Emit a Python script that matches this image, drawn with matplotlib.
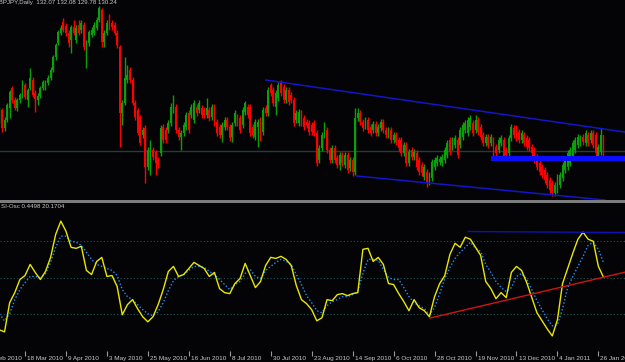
import matplotlib
matplotlib.use('Agg')
import matplotlib.pyplot as plt
from matplotlib.patches import Rectangle
import numpy as np

W, H = 625, 362
BG = '#040406'

# GBPJPY daily bars, 4 Mar 2010 .. 28 Jan 2011 (one value per bar)
opens = [133.77, 134.88, 132.88, 133.77, 135.10, 137.32, 135.99, 135.10, 135.99, 136.43,
         137.66, 135.99, 137.32, 138.21, 136.77, 135.99, 136.43, 137.32, 137.32, 137.88,
         138.43, 139.32, 140.77, 142.32, 143.43, 144.66, 144.21, 143.43, 142.66, 144.10,
         142.66, 144.32, 143.77, 144.32, 141.54, 142.32, 143.21, 143.43, 143.99, 144.88,
         145.99, 142.43, 143.43, 145.10, 144.54, 144.32, 143.43, 141.88, 134.54, 135.66,
         138.21, 139.32, 138.21, 135.66, 134.88, 134.10, 132.10, 132.88, 128.54, 129.66,
         130.43, 130.21, 129.32, 130.10, 132.99, 132.66, 132.66, 133.43, 134.88, 135.21,
         132.66, 131.88, 132.32, 132.99, 134.54, 134.32, 133.77, 135.21, 134.88, 135.10,
         134.88, 134.32, 134.88, 134.10, 135.21, 133.54, 132.99, 132.10, 132.99, 133.77,
         132.99, 131.88, 133.43, 134.10, 133.99, 133.21, 134.66, 135.21, 135.21, 132.99,
         131.88, 132.99, 133.77, 132.43, 135.10, 134.54, 137.66, 137.10, 135.21, 136.21,
         137.88, 137.43, 135.99, 137.10, 136.54, 135.99, 133.77, 133.43, 134.54, 133.99,
         133.54, 133.43, 133.21, 133.43, 132.32, 129.32, 130.66, 132.10, 132.66, 130.43,
         129.32, 130.66, 129.54, 128.77, 129.88, 128.77, 129.88, 128.43, 129.32, 127.99,
         133.99, 134.54, 133.54, 133.10, 133.77, 132.99, 132.66, 133.32, 132.32, 132.88,
         133.54, 132.66, 132.10, 132.66, 131.54, 132.10, 131.54, 131.54, 130.10, 130.99,
         128.99, 130.43, 129.66, 130.10, 129.32, 128.77, 127.43, 127.99, 126.88, 127.32,
         128.54, 128.99, 129.10, 128.99, 129.32, 129.88, 131.54, 130.77, 130.99, 131.54,
         130.99, 131.88, 132.66, 132.32, 132.99, 133.43, 132.66, 133.77, 132.99, 132.10,
         131.21, 131.88, 131.21, 131.54, 130.77, 130.43, 131.21, 131.54, 130.43, 130.10,
         131.77, 132.88, 132.88, 132.43, 131.54, 132.10, 131.77, 131.54, 130.77, 130.43,
         129.66, 128.99, 128.54, 128.21, 127.66, 127.10, 126.77, 125.66, 125.99, 126.54,
         127.32, 128.21, 128.54, 128.99, 129.66, 130.43, 130.99, 131.21, 131.88, 131.21,
         132.10, 131.54, 132.32, 132.10, 129.66, 130.21, 132.07]
highs = [135.21, 135.10, 134.10, 135.66, 137.10, 137.54, 136.32, 136.21, 136.77, 138.21,
         137.88, 137.32, 139.54, 138.54, 137.10, 136.77, 137.54, 138.21, 138.21, 138.77,
         139.66, 140.99, 142.32, 143.77, 144.32, 145.10, 144.54, 143.77, 144.32, 144.88,
         144.32, 144.88, 144.88, 144.66, 142.66, 143.77, 144.10, 144.66, 145.21, 146.43,
         146.21, 143.77, 144.88, 145.54, 144.88, 144.66, 143.77, 142.10, 135.99, 140.77,
         139.88, 139.66, 138.54, 135.99, 135.10, 134.32, 132.99, 133.21, 130.77, 131.54,
         130.77, 130.43, 129.66, 133.21, 133.32, 132.99, 133.77, 135.66, 136.54, 135.54,
         132.99, 132.66, 133.54, 134.66, 134.88, 135.54, 135.99, 135.54, 135.99, 135.43,
         135.21, 136.21, 135.21, 135.54, 135.54, 133.88, 133.32, 133.54, 134.10, 134.10,
         133.32, 133.54, 134.88, 134.43, 134.32, 135.21, 135.88, 135.54, 135.54, 133.32,
         133.88, 133.88, 134.10, 135.21, 135.43, 137.43, 137.88, 137.43, 137.10, 137.99,
         138.21, 137.77, 137.43, 137.43, 136.88, 136.32, 134.88, 134.99, 134.88, 134.32,
         133.88, 133.77, 133.54, 133.77, 132.66, 130.99, 132.43, 133.54, 132.99, 130.77,
         130.99, 130.99, 129.88, 130.21, 130.21, 130.21, 130.21, 129.66, 129.66, 135.10,
         135.10, 134.88, 133.88, 134.10, 134.10, 133.32, 133.66, 133.66, 133.32, 133.88,
         133.88, 132.99, 132.99, 132.99, 132.43, 132.43, 131.88, 131.88, 131.32, 131.32,
         130.54, 130.77, 130.54, 130.43, 129.66, 129.10, 128.88, 128.32, 127.99, 129.43,
         129.66, 129.88, 129.77, 129.99, 130.77, 131.54, 131.88, 131.88, 132.10, 131.88,
         132.99, 133.54, 133.77, 134.10, 134.32, 133.77, 134.32, 134.10, 133.32, 132.43,
         132.21, 132.21, 132.21, 131.88, 131.10, 131.88, 132.10, 131.88, 130.77, 132.10,
         133.32, 133.21, 133.21, 132.77, 132.66, 132.43, 132.10, 131.88, 131.10, 130.77,
         129.99, 129.32, 128.88, 128.54, 127.99, 127.43, 127.10, 126.88, 127.77, 127.99,
         129.10, 129.66, 130.43, 130.77, 131.54, 131.88, 132.21, 132.10, 132.21, 132.66,
         132.43, 132.66, 132.66, 132.43, 131.10, 132.88, 132.08]
lows = [133.43, 132.43, 132.54, 133.54, 133.99, 135.66, 134.88, 134.77, 135.66, 136.21,
        136.10, 135.21, 137.10, 136.32, 134.66, 135.43, 136.21, 137.10, 137.10, 137.66,
        138.21, 139.10, 140.43, 142.10, 143.21, 143.54, 143.10, 141.88, 141.21, 143.21,
        142.32, 143.21, 143.43, 141.54, 139.54, 141.99, 142.99, 143.21, 143.77, 144.66,
        141.88, 141.88, 143.21, 143.77, 143.77, 143.21, 141.77, 130.77, 133.21, 135.43,
        137.88, 137.88, 135.43, 133.77, 132.10, 130.99, 131.77, 126.77, 128.21, 127.66,
        129.32, 127.66, 128.43, 129.77, 131.21, 131.21, 132.32, 133.10, 134.54, 132.32,
        131.54, 130.43, 131.99, 132.66, 132.32, 133.99, 133.43, 134.21, 134.54, 133.99,
        133.99, 133.99, 133.66, 133.77, 133.10, 131.99, 131.77, 131.32, 132.66, 132.66,
        131.43, 131.32, 133.10, 133.10, 132.32, 132.88, 134.32, 133.99, 131.99, 131.77,
        131.54, 130.77, 131.43, 132.10, 134.21, 134.21, 136.43, 135.32, 134.32, 135.88,
        136.43, 135.66, 135.66, 135.43, 135.66, 133.10, 133.43, 133.10, 133.10, 132.66,
        132.88, 132.10, 132.10, 131.99, 128.66, 128.99, 130.32, 131.77, 130.10, 128.99,
        128.99, 128.99, 128.43, 128.21, 128.66, 128.43, 127.88, 128.10, 127.54, 127.66,
        133.66, 133.21, 132.54, 132.77, 132.32, 131.99, 132.32, 131.99, 131.99, 132.54,
        132.32, 131.77, 131.77, 131.21, 131.21, 130.99, 130.32, 129.77, 129.77, 128.66,
        128.66, 129.32, 129.32, 128.21, 127.66, 127.54, 127.10, 126.32, 126.54, 126.99,
        128.21, 128.66, 128.77, 128.66, 128.99, 129.54, 129.88, 130.43, 130.66, 129.54,
        130.66, 131.54, 132.32, 131.99, 132.66, 131.99, 132.32, 132.10, 131.54, 130.88,
        130.88, 130.66, 130.88, 129.54, 129.77, 130.10, 130.88, 129.32, 129.54, 129.77,
        131.43, 131.77, 131.43, 131.21, 131.21, 130.88, 130.43, 130.32, 129.77, 128.99,
        128.21, 127.66, 127.32, 126.77, 126.21, 125.66, 125.32, 125.32, 125.66, 126.21,
        126.99, 127.88, 128.21, 128.66, 129.32, 130.10, 130.66, 130.88, 130.99, 130.88,
        130.88, 131.21, 130.66, 129.77, 129.32, 129.88, 129.78]
closes = [134.88, 132.88, 133.77, 135.43, 136.88, 135.99, 135.10, 135.99, 136.54, 137.99,
          136.32, 137.10, 138.43, 136.54, 136.10, 136.43, 137.32, 137.99, 137.88, 138.43,
          139.32, 140.77, 142.10, 143.54, 143.99, 143.77, 143.43, 142.32, 144.10, 143.43,
          143.99, 143.43, 144.54, 141.88, 142.32, 143.54, 143.77, 144.32, 144.88, 146.21,
          142.43, 143.43, 144.54, 143.99, 144.10, 143.43, 142.10, 134.54, 135.66, 138.43,
          138.77, 138.21, 135.66, 134.10, 132.32, 131.21, 132.66, 128.54, 130.43, 131.32,
          129.66, 128.99, 128.77, 132.88, 131.54, 131.54, 133.43, 135.21, 135.66, 132.66,
          131.88, 132.32, 133.21, 134.32, 132.66, 135.21, 135.66, 134.54, 135.66, 134.32,
          134.32, 135.10, 133.99, 135.21, 133.43, 132.32, 132.10, 133.21, 133.77, 132.99,
          131.77, 133.21, 134.54, 133.43, 132.66, 134.88, 135.66, 134.32, 132.32, 132.10,
          133.54, 133.54, 131.77, 134.88, 134.54, 137.10, 136.77, 135.66, 136.77, 137.66,
          136.77, 135.99, 137.10, 135.77, 135.99, 133.43, 134.54, 134.66, 133.43, 132.99,
          133.21, 132.43, 132.43, 132.32, 128.99, 130.66, 132.10, 132.66, 130.43, 129.32,
          130.66, 129.32, 128.77, 129.88, 128.99, 129.88, 128.21, 129.32, 127.99, 133.99,
          134.54, 133.54, 132.88, 133.77, 132.66, 132.32, 133.32, 132.32, 132.99, 133.54,
          132.66, 132.10, 132.66, 131.54, 132.10, 131.32, 130.66, 130.10, 130.99, 128.99,
          130.21, 129.66, 130.21, 128.54, 127.99, 127.88, 128.54, 126.88, 127.66, 129.10,
          129.32, 129.54, 129.43, 129.66, 130.43, 131.21, 130.21, 131.54, 131.77, 129.88,
          132.66, 133.21, 133.43, 133.77, 133.99, 132.32, 133.77, 132.43, 131.88, 131.21,
          131.88, 130.99, 131.88, 129.88, 130.10, 131.54, 131.77, 129.66, 129.88, 131.77,
          132.99, 132.10, 131.77, 131.54, 132.32, 131.21, 130.77, 130.66, 130.10, 129.32,
          128.54, 127.99, 127.66, 127.10, 126.54, 125.99, 125.66, 126.54, 127.43, 127.66,
          128.77, 129.32, 130.10, 130.43, 131.21, 131.54, 131.88, 131.77, 131.32, 132.32,
          131.21, 132.32, 130.99, 130.10, 130.77, 132.10, 130.24]

# oscillator, read every second bar
osc_step = 2
osc_main = [-71.2, -74.0, -34.3, -20.6, -2.7, 2.7, 17.8, 6.9, -2.7, 8.2,
            27.4, 58.9, 76.7, 63.0, 41.1, 39.7, 42.5, 9.6, 4.1, 21.9,
            27.4, 1.4, 2.7, -12.3, -50.7, -37.0, -30.1, -42.5, -53.4, -60.3,
            -53.4, -37.0, -16.4, 8.2, 15.1, 1.4, 4.1, 12.3, 20.6, 16.4,
            12.3, 1.4, 6.9, -15.1, -20.6, -21.9, -8.2, -1.4, 19.2, 2.7,
            -13.7, -5.5, 16.4, 27.4, 26.0, 28.8, 24.7, 16.4, -11.0, -30.1,
            -35.6, -43.8, -58.9, -54.8, -30.1, -31.5, -23.3, -21.9, -24.7, -21.9,
            -20.6, 38.4, 39.7, 21.9, 27.4, 17.8, -8.2, -9.6, -21.9, -32.9,
            -45.2, -30.1, -41.1, -45.2, -53.4, -26.0, -8.2, 2.7, 31.5, 46.6,
            41.1, 54.8, 52.1, 41.1, 30.1, -5.5, -15.1, -28.8, -20.6, -27.4,
            6.9, 15.1, 9.6, -6.9, -27.4, -48.0, -58.9, -69.9, -79.5, -57.5,
            -8.2, 12.3, 32.9, 52.1, 61.7, 52.1, 49.3, 15.1, 0.4498]
osc_signal = [-49.3, -58.9, -49.3, -30.1, -16.4, -6.9, 1.4, 1.4, 0.0, 5.5,
              20.6, 41.1, 56.2, 56.2, 49.3, 48.0, 43.8, 34.3, 24.7, 17.8,
              15.1, 12.3, 9.6, 2.7, -16.4, -26.0, -30.1, -37.0, -43.8, -49.3,
              -52.1, -46.6, -34.3, -17.8, -4.1, 1.4, 4.1, 9.6, 15.1, 15.1,
              13.7, 8.2, 4.1, -2.7, -9.6, -16.4, -9.6, -5.5, 5.5, 11.0,
              1.4, -1.4, 9.6, 15.1, 20.6, 24.7, 21.9, 17.8, 4.1, -9.6,
              -24.7, -34.3, -45.2, -48.0, -38.4, -32.9, -30.1, -26.0, -26.0, -23.3,
              -19.2, 5.5, 24.7, 24.7, 23.3, 11.0, 0.0, -2.7, -2.7, -13.7,
              -26.0, -34.3, -38.4, -42.5, -50.7, -41.1, -21.9, -1.4, 13.7, 26.0,
              34.3, 41.1, 48.0, 39.7, 35.6, 17.8, 6.9, -5.5, -13.7, -19.2,
              -13.7, 1.4, 5.5, -2.7, -16.4, -31.5, -43.8, -56.2, -65.8, -64.4,
              -42.5, -13.7, 1.4, 15.1, 28.8, 43.8, 48.0, 38.4, 20.1704]
osc_levels = [50, 0, -50]

# drawn objects (bar index, value)
chan_top_x, chan_top_y = [104.1, 244.4], [138.21, 132.43]
chan_bot_x, chan_bot_y = [139.7, 236.6], [127.54, 124.88]
support_level = 130.27
zone_x0, zone_x1, zone_lo, zone_hi = 192.0, 244.4, 129.24, 129.80
osc_blue_x, osc_blue_y = [183.2, 244.4], [62.6, 61.2]
osc_red_x, osc_red_y = [168.2, 244.4], [-55.2, 7.3]

# time scale: a label every 16 bars, first one (24 Feb) is off the left edge
time_labels = ['24 Feb 2010', '18 Mar 2010', '9 Apr 2010', '3 May 2010', '25 May 2010',
               '16 Jun 2010', '8 Jul 2010', '30 Jul 2010', '23 Aug 2010', '14 Sep 2010',
               '6 Oct 2010', '28 Oct 2010', '19 Nov 2010', '13 Dec 2010', '4 Jan 2011',
               '26 Jan 2011']
first_label_bar = -6
label_every = 16

XLIM = (0.23, 244.4)
TXT = '#c8c8c8'
FONT = 'Liberation Sans'

fig = plt.figure(figsize=(W / 100, H / 100), dpi=100, facecolor=BG)


def px_axes(top, bottom):
    a = fig.add_axes([0, 1 - bottom / H, 1, (bottom - top) / H])
    a.set_xlim(*XLIM)
    a.axis('off')
    return a


# ---- price window ----
ax = px_axes(0, 200)
ax.set_ylim(124.88, 147.1)

bars = np.arange(len(closes))
o = np.array(opens)
c = np.array(closes)
cols = np.where(c >= o, '#0aa00a', '#ff0000')
ax.axhline(support_level, color='#2b3a37', lw=1.0, zorder=1)
ax.vlines(bars, lows, highs, colors=cols, linewidth=1.0, zorder=2)
ax.bar(bars, np.maximum(np.abs(c - o), 0.06), bottom=np.minimum(o, c), width=0.72,
       color=cols, linewidth=0, zorder=3)
ax.plot(chan_top_x, chan_top_y, color='#1414c8', lw=1.1, zorder=4)
ax.plot(chan_bot_x, chan_bot_y, color='#1414c8', lw=1.1, zorder=4)
ax.add_patch(Rectangle((zone_x0, zone_lo), zone_x1 - zone_x0, zone_hi - zone_lo,
                       color='#0c0cff', lw=0, zorder=5))
ax.text(-2.0, 146.8, 'GBPJPY,Daily  132.07 132.08 129.78 130.24', color=TXT,
        fontsize=4.4, family=FONT, va='center', ha='left', clip_on=True, zorder=6)

# window separator
fig.add_artist(Rectangle((0, 1 - 202.6 / H), 1, 2.4 / H, transform=fig.transFigure,
                         color='#7c7c7c', lw=0))

# ---- oscillator window ----
ax2 = px_axes(203, 351)
ax2.set_ylim(-100, 101.4)
for lv in osc_levels:
    ax2.axhline(lv, color='#1d5656', lw=0.8, ls=(0, (1, 2)))
osc_x = np.arange(len(osc_main)) * osc_step
ax2.plot(osc_x, osc_main, color='#e8e800', lw=1.0, zorder=3)
ax2.plot(osc_x, osc_signal, color='#1e90ff', lw=1.0, ls=(0, (1, 1.5)), zorder=2)
ax2.plot(osc_blue_x, osc_blue_y, color='#1010b4', lw=1.0, zorder=4)
ax2.plot(osc_red_x, osc_red_y, color='#d01414', lw=1.0, zorder=4)
ax2.text(0.6, 97, 'SI-Osc 0.4498 20.1704', color=TXT, fontsize=4.4, family=FONT,
         va='center', ha='left', clip_on=True)

# ---- time scale ----
ax3 = px_axes(351, 362)
ax3.set_ylim(0, 1)
for k, lab in enumerate(time_labels):
    pos = first_label_bar + k * label_every
    ax3.vlines(pos, 0.55, 1.0, color='#9a9a9a', lw=0.8)
    ax3.text(pos + 0.8, 0.3, lab, color=TXT, fontsize=4.6, family=FONT,
             va='center', ha='left', clip_on=True)

fig.savefig('out.png', dpi=100, facecolor=BG)
